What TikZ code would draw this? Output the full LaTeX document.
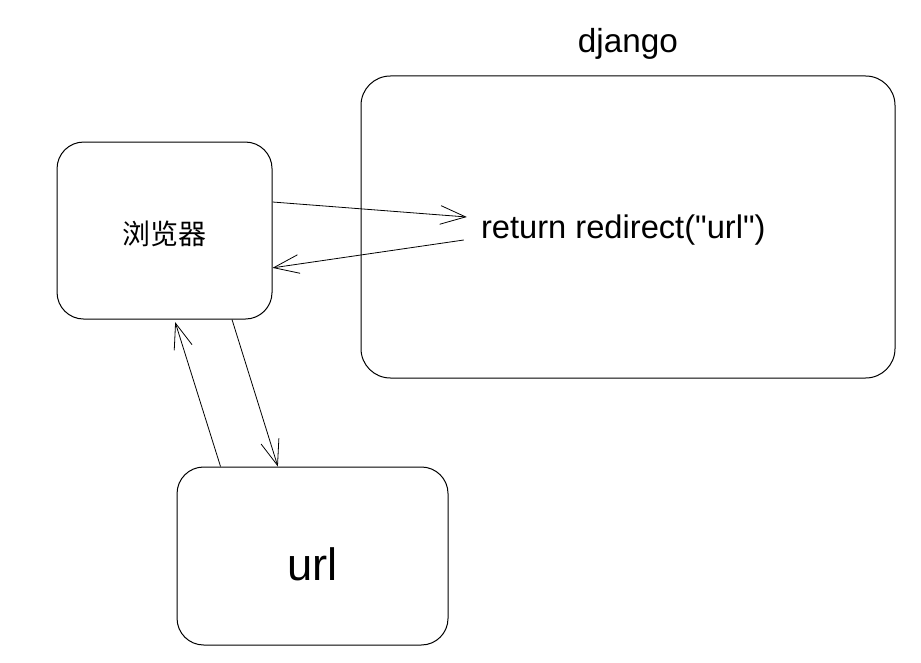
\documentclass[tikz,border=0pt]{standalone}
\usepackage{fontspec}
\setmainfont{Liberation Sans}
\newfontfamily\plainsans{Liberation Sans}
\newfontfamily\cjk{Noto Sans CJK SC}
\usetikzlibrary{arrows.meta, positioning}

\begin{document}
\begin{tikzpicture}[
  rbox/.style={draw=black, line width=0.75pt, rounded corners=20pt, inner sep=0pt},
  txt/.style={inner sep=0pt},
  arr/.style={line width=0.6pt, -{Straight Barb[length=19pt, width=14pt, line width=0.6pt]}}
]
  \useasboundingbox (0,0) rectangle (690.75pt,496.5pt);

  % boxes
  \node[rbox, minimum width=161.25pt, minimum height=132.75pt] (browser) at (123.4pt,323.6pt) {};
  \node[rbox, minimum width=400.5pt, minimum height=226.5pt, rounded corners=22pt] (django) at (471pt,326.25pt) {};
  \node[rbox, minimum width=203.25pt, minimum height=133.5pt] (url) at (234.4pt,79.5pt) {};

  % labels
  \node[txt, font=\cjk\fontsize{21}{24}\selectfont] (browsertext) at ([yshift=-2.5pt]browser.center) {浏览器};
  \node[txt, font=\fontsize{34}{38}\selectfont] (urltext) at ([yshift=-6pt]url.center) {url};
  \node[txt, above=11.5pt of django, font=\fontsize{25}{28}\selectfont] (title) {django};
  \node[txt, font=\plainsans\fontsize{24.5}{28}\selectfont] (ret) at ([xshift=-3.5pt,yshift=-2.5pt]django.center)
    {return redirect("url")};

  % arrows
  \draw[arr] ([yshift=21.4pt]browser.east) -- ([xshift=-10.5pt,yshift=10pt]ret.west);
  \draw[arr] ([xshift=-12.75pt,yshift=-7.25pt]ret.west) -- ([yshift=-28pt]browser.east);
  \draw[arr] ([xshift=-69pt]url.north) -- ([xshift=8pt,yshift=-2pt]browser.south);
  \draw[arr] ([xshift=50.6pt]browser.south) -- ([xshift=-26pt]url.north);
\end{tikzpicture}
\end{document}
